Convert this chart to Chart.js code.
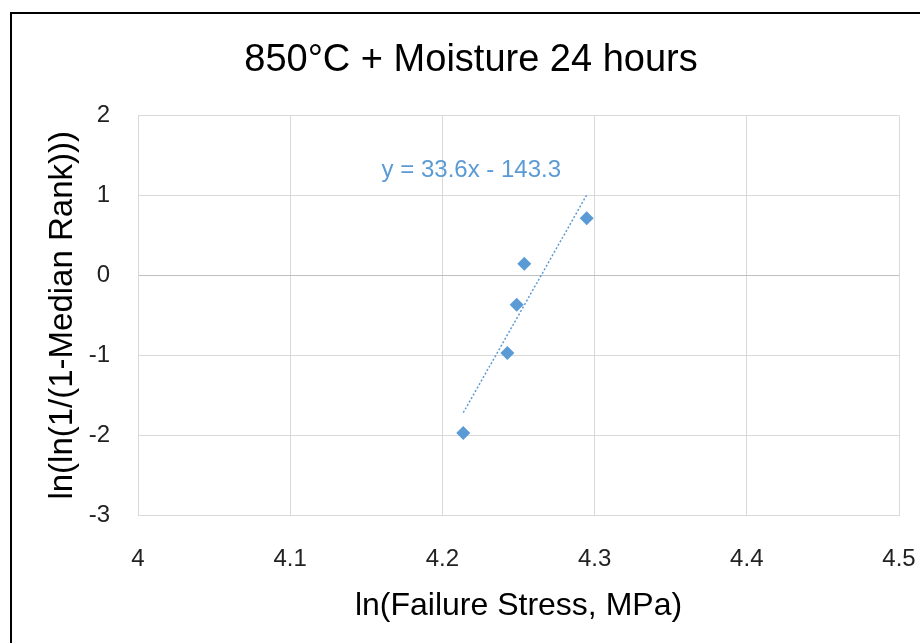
<!DOCTYPE html>
<html>
<head>
<meta charset="utf-8">
<script src="https://cdn.jsdelivr.net/npm/chart.js@4.4.1/dist/chart.umd.min.js"></script>
<style>
  html, body { margin: 0; padding: 0; background: #fff; }
</style>
</head>
<body>
<canvas id="chart" width="920" height="643"></canvas>
<script>
// ln(failure stress) vs ln(ln(1/(1-median rank))), 5 specimens
const stressLn = [4.2137, 4.2427, 4.2488, 4.2538, 4.2948];
const rankLn = [-1.974, -0.972, -0.367, 0.145, 0.715];
const xTicks = [4, 4.1, 4.2, 4.3, 4.4, 4.5];
const yTicks = [-3, -2, -1, 0, 1, 2];
// trendline as printed on the chart
const trendSlope = 33.6;
const trendIntercept = -143.3;
const trendLabel = 'y = 33.6x - 143.3';

const FONT = '"Liberation Sans", Arial, sans-serif';
const BLUE = '#5b9bd5';

const points = stressLn.map((x, i) => ({ x, y: rankLn[i] }));
const xLo = Math.min(...stressLn);
const xHi = Math.max(...stressLn);
const trend = [xLo, xHi].map(x => ({ x, y: trendSlope * x + trendIntercept }));

const decor = {
  id: 'decor',
  beforeDraw(chart) {
    const ctx = chart.ctx;
    ctx.save();
    ctx.fillStyle = '#fff';
    ctx.fillRect(0, 0, chart.width, chart.height);
    ctx.restore();
  },
  afterDraw(chart) {
    const ctx = chart.ctx;
    ctx.save();
    ctx.strokeStyle = '#000';
    ctx.lineWidth = 2;
    ctx.strokeRect(11, 13, 2000, 2000);
    // equation label, anchored in data space
    const lx = chart.scales.x.getPixelForValue(4.219);
    const ly = chart.scales.y.getPixelForValue(1.31);
    ctx.font = '24px ' + FONT;
    ctx.fillStyle = BLUE;
    ctx.textAlign = 'center';
    ctx.textBaseline = 'middle';
    ctx.fillText(trendLabel, lx, ly);
    ctx.restore();
  }
};

const gridColor = c => c.tick && c.tick.value === 0 ? '#bfbfbf' : '#d9d9d9';

new Chart(document.getElementById('chart'), {
  type: 'scatter',
  data: {
    datasets: [
      {
        label: 'data',
        data: points,
        pointStyle: 'rectRot',
        pointRadius: 7,
        pointHoverRadius: 7,
        backgroundColor: BLUE,
        borderColor: BLUE,
        borderWidth: 0,
        order: 0
      },
      {
        label: 'trend',
        type: 'line',
        data: trend,
        showLine: true,
        pointRadius: 0,
        borderColor: BLUE,
        borderWidth: 1.5,
        borderDash: [2, 2],
        fill: false,
        order: 1
      }
    ]
  },
  options: {
    responsive: false,
    animation: false,
    layout: { padding: { left: 43, right: 21, top: 0, bottom: 0 } },
    plugins: {
      legend: { display: false },
      tooltip: { enabled: false },
      title: {
        display: true,
        text: '850°C + Moisture 24 hours',
        color: '#000',
        font: { family: FONT, size: 38, weight: 'normal' },
        padding: { top: 38, bottom: 32 }
      }
    },
    scales: {
      x: {
        type: 'linear',
        min: 4,
        max: 4.5,
        afterBuildTicks: s => { s.ticks = xTicks.map(v => ({ value: v })); },
        afterFit: s => { s.height = 128; s.paddingLeft = 0; s.paddingRight = 0; },
        ticks: {
          color: '#222',
          font: { family: FONT, size: 24 },
          padding: 30,
          maxRotation: 0,
          callback: v => String(v)
        },
        grid: { color: gridColor, lineWidth: 1, drawTicks: false },
        border: { display: true, color: '#d9d9d9' },
        title: {
          display: true,
          text: 'ln(Failure Stress, MPa)',
          color: '#000',
          font: { family: FONT, size: 32 },
          padding: { top: 0, bottom: 18 }
        }
      },
      y: {
        type: 'linear',
        min: -3,
        max: 2,
        afterBuildTicks: s => { s.ticks = yTicks.map(v => ({ value: v })); },
        afterFit: s => { s.width = 95; s.paddingTop = 0; s.paddingBottom = 0; },
        ticks: {
          color: '#222',
          font: { family: FONT, size: 24 },
          padding: 28,
          callback: v => String(v)
        },
        grid: { color: gridColor, lineWidth: 1, drawTicks: false },
        border: { display: true, color: '#d9d9d9' },
        title: {
          display: true,
          text: 'ln(ln(1/(1-Median Rank)))',
          color: '#000',
          font: { family: FONT, size: 33 },
          padding: { top: 0, bottom: 0 }
        }
      }
    }
  },
  plugins: [decor]
});
</script>
</body>
</html>
